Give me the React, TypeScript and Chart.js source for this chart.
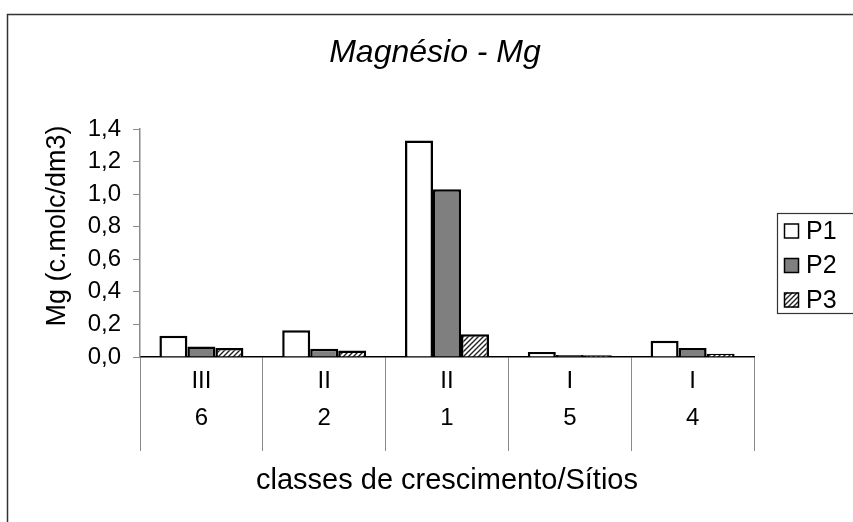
import React, { useEffect, useRef } from "react";
import { Chart, registerables } from "chart.js";

Chart.register(...registerables);

const chartTitle = "Magnésio - Mg";
const yTitle = "Mg (c.molc/dm3)";
const xTitle = "classes de crescimento/Sítios";
const classes = ["III", "II", "II", "I", "I"];
const sites = ["6", "2", "1", "5", "4"];
const seriesNames = ["P1", "P2", "P3"];
const p1 = [0.13, 0.165, 1.33, 0.03, 0.1];
const p2 = [0.065, 0.05, 1.03, 0.012, 0.055];
const p3 = [0.055, 0.04, 0.14, 0.01, 0.02];
const yMin = 0;
const yMax = 1.4;
const yStep = 0.2;

const FONT = "'Liberation Sans', Arial, sans-serif";

function makeHatch(): CanvasPattern | string {
  const c = document.createElement("canvas");
  c.width = 5;
  c.height = 5;
  const g = c.getContext("2d");
  if (!g) return "#999";
  g.fillStyle = "#ffffff";
  g.fillRect(0, 0, 5, 5);
  g.strokeStyle = "#222222";
  g.lineWidth = 1.4;
  g.beginPath();
  g.moveTo(-1, 6);
  g.lineTo(6, -1);
  g.moveTo(-1, 1);
  g.lineTo(1, -1);
  g.moveTo(4, 6);
  g.lineTo(6, 4);
  g.stroke();
  const p = g.createPattern(c, "repeat");
  return p || "#999";
}

const framePlugin = {
  id: "framePlugin",
  beforeDraw(chart: any) {
    const ctx = chart.ctx;
    ctx.save();
    ctx.fillStyle = "#ffffff";
    ctx.fillRect(0, 0, chart.width, chart.height);
    ctx.strokeStyle = "#333333";
    ctx.lineWidth = 1.5;
    ctx.strokeRect(7.5, 14.5, chart.width + 20, chart.height + 20);
    ctx.restore();
  },
  afterDraw(chart: any) {
    const ctx = chart.ctx;
    ctx.save();
    // title
    ctx.fillStyle = "#000000";
    ctx.font = `italic 32px ${FONT}`;
    ctx.textAlign = "center";
    ctx.textBaseline = "middle";
    ctx.fillText(chartTitle, 435, 53);
    // y axis title
    ctx.save();
    ctx.translate(58, 226);
    ctx.rotate(-Math.PI / 2);
    ctx.font = `27px ${FONT}`;
    ctx.fillText(yTitle, 0, 0);
    ctx.restore();
    // legend
    const lx = 777;
    const ly = 213;
    ctx.strokeStyle = "#333333";
    ctx.lineWidth = 1.2;
    ctx.strokeRect(lx + 0.5, ly + 0.5, 120, 100);
    ctx.font = `25px ${FONT}`;
    ctx.textAlign = "left";
    chart.data.datasets.forEach((ds: any, i: number) => {
      const cy = ly + 18 + i * 34.5;
      ctx.fillStyle = ds.backgroundColor;
      ctx.fillRect(lx + 7, cy - 7.5, 15, 15);
      ctx.strokeStyle = "#000000";
      ctx.lineWidth = 1.5;
      ctx.strokeRect(lx + 7.5, cy - 7, 14, 14);
      ctx.fillStyle = "#000000";
      ctx.fillText(ds.label, lx + 29, cy + 1);
    });
    ctx.restore();
  },
};

export default function App() {
  const ref = useRef<HTMLCanvasElement | null>(null);
  useEffect(() => {
    if (!ref.current) return;
    const hatch = makeHatch();
    const labels = classes.map((c, i) => [c, sites[i]]);
    const common = {
      borderColor: "#000000",
      borderWidth: 2.5,
      categoryPercentage: 0.684,
      barPercentage: 1,
    };
    const chart = new Chart(ref.current, {
      type: "bar",
      data: {
        labels,
        datasets: [
          { label: seriesNames[0], data: p1, backgroundColor: "#ffffff", ...common },
          { label: seriesNames[1], data: p2, backgroundColor: "#7f7f7f", ...common },
          { label: seriesNames[2], data: p3, backgroundColor: hatch as any, ...common },
        ],
      },
      options: {
        animation: false,
        responsive: true,
        maintainAspectRatio: false,
        layout: { padding: { top: 129, right: 99, bottom: 0, left: 0 } },
        plugins: {
          legend: { display: false },
          title: { display: false },
          tooltip: { enabled: false },
        },
        scales: {
          x: {
            offset: true,
            grid: {
              offset: true,
              drawOnChartArea: false,
              drawTicks: true,
              tickLength: 94,
              color: "#8a8a8a",
              lineWidth: 1,
            },
            border: { display: true, color: "#000000", width: 1.5 },
            ticks: {
              color: "#000000",
              font: { family: FONT, size: 24, lineHeight: 1.55 },
              padding: -88,
              maxRotation: 0,
              autoSkip: false,
            },
            title: {
              display: true,
              text: xTitle,
              color: "#000000",
              font: { family: FONT, size: 29, lineHeight: 1.2 },
              padding: { top: 0, bottom: 24 },
            },
            afterFit(scale: any) {
              scale.height = 165;
            },
          },
          y: {
            min: yMin,
            max: yMax,
            ticks: {
              stepSize: yStep,
              color: "#000000",
              font: { family: FONT, size: 24 },
              padding: 12,
              callback: (v: any) => Number(v).toFixed(1).replace(".", ","),
            },
            grid: {
              drawOnChartArea: false,
              drawTicks: true,
              tickLength: 7,
              color: "#8a8a8a",
            },
            border: { display: true, color: "#8a8a8a", width: 1.5 },
            title: { display: false },
            afterFit(scale: any) {
              scale.width = 140;
            },
          },
        },
      },
      plugins: [framePlugin],
    });
    return () => chart.destroy();
  }, []);
  return (
    <div style={{ position: "fixed", left: 0, top: 0, width: 853, height: 522 }}>
      <canvas ref={ref} />
    </div>
  );
}
